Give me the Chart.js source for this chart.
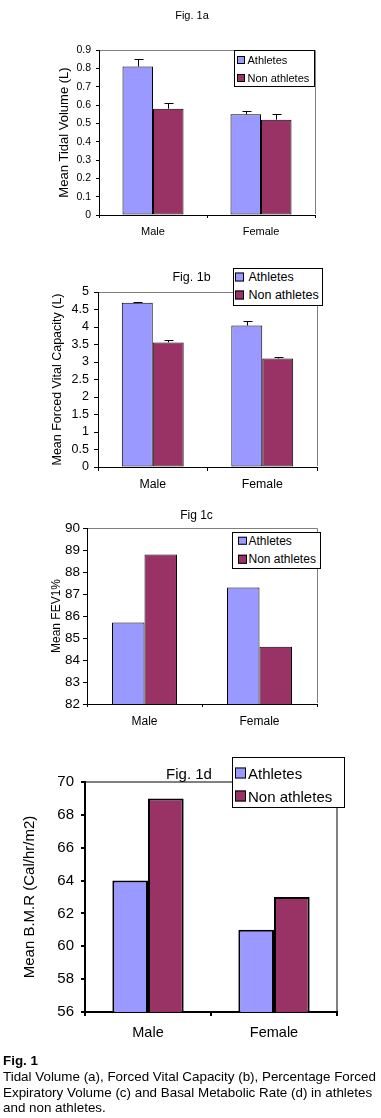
<!DOCTYPE html>
<html><head><meta charset="utf-8">
<script src="https://cdn.jsdelivr.net/npm/chart.js@4.4.0/dist/chart.umd.min.js"></script>
<style>
html,body{margin:0;padding:0;background:#fff;}
body{width:381px;height:1118px;position:relative;overflow:hidden;font-family:"Liberation Sans",Arial,sans-serif;color:#000;}
canvas{position:absolute;left:0;}
.t{position:absolute;transform:translate(-50%,-50%);white-space:nowrap;line-height:1;}
.lg{position:absolute;background:#fff;border:1px solid #000;box-sizing:border-box;}
.it{position:absolute;white-space:nowrap;line-height:1;transform:translateY(-50%);}
.sw{position:absolute;border:1px solid #000;box-sizing:border-box;transform:translateY(-50%);}
#cap{position:absolute;left:3px;top:1053.4px;font-size:13.4px;line-height:15.6px;white-space:nowrap;}
</style></head><body>
<canvas id="c1"></canvas>
<canvas id="c2"></canvas>
<canvas id="c3"></canvas>
<canvas id="c4"></canvas>
<div id="cap"><b>Fig. 1</b><br>Tidal Volume (a), Forced Vital Capacity (b), Percentage Forced<br>Expiratory Volume (c) and Basal Metabolic Rate (d) in athletes<br>and non athletes.</div>
<script>
// ---- data ----
const categories = ['Male', 'Female'];
const seriesNames = ['Athletes', 'Non athletes'];

const tidalAthletes = [0.81, 0.55];
const tidalNonAthletes = [0.58, 0.52];
const tidalAthletesErr = [0.04, 0.017];
const tidalNonAthletesErr = [0.03, 0.03];
const tidalTicks = [0, 0.1, 0.2, 0.3, 0.4, 0.5, 0.6, 0.7, 0.8, 0.9];

const fvcAthletes = [4.69, 4.04];
const fvcNonAthletes = [3.56, 3.10];
const fvcAthletesErr = [0.03, 0.14];
const fvcNonAthletesErr = [0.06, 0.03];
const fvcTicks = [0, 0.5, 1, 1.5, 2, 2.5, 3, 3.5, 4, 4.5, 5];

const fevAthletes = [85.7, 87.3];
const fevNonAthletes = [88.8, 84.6];
const fevTicks = [82, 83, 84, 85, 86, 87, 88, 89, 90];

const bmrAthletes = [64, 61];
const bmrNonAthletes = [69, 63];
const bmrTicks = [56, 58, 60, 62, 64, 66, 68, 70];

const titles = ['Fig. 1a', 'Fig. 1b', 'Fig 1c', 'Fig. 1d'];
const yTitles = ['Mean Tidal Volume (L)', 'Mean Forced Vital Capacity (L)', 'Mean FEV1%', 'Mean B.M.R (Cal/hr/m2)'];

// ---- rendering ----
const W = 381;
Chart.defaults.font.family = '"Liberation Sans", Arial, sans-serif';
Chart.defaults.color = '#000';

const framePlugin = {
  id: 'frame',
  beforeDatasetsDraw(chart, args, opts) {
    const {left, top, right, bottom} = chart.chartArea;
    const ctx = chart.ctx;
    const o = opts.width % 2 ? 0.5 : 0;
    ctx.save();
    ctx.strokeStyle = opts.color;
    ctx.lineWidth = opts.width;
    ctx.beginPath();
    ctx.moveTo(Math.round(left) + 1, Math.round(top) + o);
    ctx.lineTo(Math.round(right) + o, Math.round(top) + o);
    ctx.lineTo(Math.round(right) + o, Math.round(bottom) - 1);
    ctx.stroke();
    ctx.restore();
  }
};

const errorPlugin = {
  id: 'errorBars',
  afterDatasetsDraw(chart, args, opts) {
    const ctx = chart.ctx;
    const ys = chart.scales.y;
    chart.data.datasets.forEach((ds, i) => {
      if (!ds.errors) return;
      const meta = chart.getDatasetMeta(i);
      meta.data.forEach((bar, j) => {
        const v = ds.data[j], e = ds.errors[j];
        const y0 = ys.getPixelForValue(v);
        const y1 = Math.round(ys.getPixelForValue(v + e)) + 0.5;
        const x = Math.round(bar.x) + 0.5;
        ctx.save();
        ctx.strokeStyle = '#000';
        ctx.lineWidth = 1;
        ctx.beginPath();
        ctx.moveTo(x, y0);
        ctx.lineTo(x, y1);
        ctx.moveTo(x - opts.cap, y1);
        ctx.lineTo(x + opts.cap + 1, y1);
        ctx.stroke();
        ctx.restore();
      });
    });
  }
};

function makeChart(o) {
  const cv = document.getElementById(o.id);
  cv.width = W; cv.height = o.h;
  cv.style.width = W + 'px'; cv.style.height = o.h + 'px';
  cv.style.top = o.top + 'px';
  const ds = (k) => ({
    label: seriesNames[k],
    data: k ? o.n : o.a,
    errors: k ? o.ne : o.ae,
    backgroundColor: k ? '#993366' : '#9999FF',
    borderColor: '#000',
    borderWidth: o.bw,
    borderSkipped: false
  });
  new Chart(cv, {
    type: 'bar',
    data: {labels: categories, datasets: [ds(0), ds(1)]},
    options: {
      responsive: false, animation: false, devicePixelRatio: 1,
      layout: {padding: {left: 0, top: o.area.top, right: W - o.area.right, bottom: 0}},
      datasets: {bar: {categoryPercentage: o.cp, barPercentage: 1}},
      plugins: {
        legend: {display: false}, tooltip: {enabled: false},
        frame: {color: '#808080', width: o.lw},
        errorBars: {cap: 4}
      },
      scales: {
        x: {
          grid: {offset: true, drawOnChartArea: false, drawTicks: true, tickLength: o.xtl, color: '#000', lineWidth: o.lw},
          border: {color: '#000', width: o.lw},
          ticks: {color: '#000', font: {size: o.xfs}, padding: o.xpad, maxRotation: 0, autoSkip: false},
          afterFit: s => { s.height = o.h - o.area.bottom; }
        },
        y: {
          min: o.ticks[0], max: o.ticks[o.ticks.length - 1],
          afterBuildTicks: s => { s.ticks = o.ticks.map(v => ({value: v})); },
          grid: {drawOnChartArea: false, drawTicks: true, tickLength: o.ytl, color: '#000', lineWidth: o.lw},
          border: {color: '#000', width: o.lw},
          ticks: {color: '#000', font: {size: o.yfs}, padding: o.ypad, autoSkip: false, callback: v => String(v)},
          title: {display: true, text: o.yTitle, color: '#000', font: {size: o.tfs}, padding: {top: o.tpad, bottom: 0}},
          afterFit: s => { s.width = o.area.left; }
        }
      }
    },
    plugins: [framePlugin, errorPlugin]
  });
}

function addText(txt, cx, cy, size) {
  const d = document.createElement('div');
  d.className = 't';
  d.textContent = txt;
  d.style.left = cx + 'px'; d.style.top = cy + 'px'; d.style.fontSize = size + 'px';
  document.body.appendChild(d);
}

function addLegend(L) {
  const box = document.createElement('div');
  box.className = 'lg';
  box.style.left = L.x + 'px'; box.style.top = L.y + 'px';
  box.style.width = L.w + 'px'; box.style.height = L.h + 'px';
  box.style.borderWidth = L.bw + 'px';
  document.body.appendChild(box);
  const cols = ['#9999FF', '#993366'];
  seriesNames.forEach((name, k) => {
    const sw = document.createElement('div');
    sw.className = 'sw';
    sw.style.left = L.swX + 'px'; sw.style.top = L.rows[k] + 'px';
    sw.style.width = L.sw + 'px'; sw.style.height = L.sw + 'px';
    sw.style.background = cols[k];
    sw.style.borderWidth = L.bw + 'px';
    document.body.appendChild(sw);
    const t = document.createElement('div');
    t.className = 'it';
    t.textContent = name;
    t.style.left = L.tx + 'px'; t.style.top = L.rows[k] + 'px'; t.style.fontSize = L.fs + 'px';
    document.body.appendChild(t);
  });
}

makeChart({id: 'c1', top: 0, h: 245, area: {left: 99, top: 50, right: 315, bottom: 215},
  a: tidalAthletes, n: tidalNonAthletes, ae: tidalAthletesErr, ne: tidalNonAthletesErr, ticks: tidalTicks,
  yTitle: yTitles[0], cp: 0.565, bw: 1, lw: 1,
  xfs: 11, xtl: 3, xpad: 7.2, yfs: 10.5, ytl: 3, ypad: 5, tfs: 13, tpad: 56.2});
makeChart({id: 'c2', top: 240, h: 260, area: {left: 98, top: 52, right: 317, bottom: 227},
  a: fvcAthletes, n: fvcNonAthletes, ae: fvcAthletesErr, ne: fvcNonAthletesErr, ticks: fvcTicks,
  yTitle: yTitles[1], cp: 0.565, bw: 1, lw: 1,
  xfs: 12.3, xtl: 4, xpad: 6.3, yfs: 12.5, ytl: 4, ypad: 5, tfs: 12.5, tpad: 50.5});
makeChart({id: 'c3', top: 500, h: 250, area: {left: 87, top: 28, right: 317, bottom: 204},
  a: fevAthletes, n: fevNonAthletes, ae: null, ne: null, ticks: fevTicks,
  yTitle: yTitles[2], cp: 0.565, bw: 1, lw: 1,
  xfs: 12, xtl: 3, xpad: 7.2, yfs: 13.5, ytl: 4, ypad: 3, tfs: 12, tpad: 49.5});
makeChart({id: 'c4', top: 750, h: 295, area: {left: 85, top: 32, right: 337, bottom: 262},
  a: bmrAthletes, n: bmrNonAthletes, ae: null, ne: null, ticks: bmrTicks,
  yTitle: yTitles[3], cp: 0.566, bw: 2, lw: 2,
  xfs: 14.5, xtl: 4, xpad: 8.6, yfs: 15, ytl: 4, ypad: 7, tfs: 15, tpad: 21});

addText(titles[0], 192, 15, 11);
addText(titles[1], 191.5, 276.7, 12.5);
addText(titles[2], 196.5, 515, 12);
addText(titles[3], 189, 773.3, 15);

addLegend({x: 234, y: 50, w: 81, h: 37, bw: 1, sw: 8, swX: 237, tx: 247.5, fs: 11, rows: [60, 77.7]});
addLegend({x: 233, y: 268, w: 90, h: 38, bw: 1, sw: 9, swX: 235, tx: 248.5, fs: 12.5, rows: [276.7, 295.3]});
addLegend({x: 232, y: 532, w: 89, h: 36.5, bw: 1, sw: 8.5, swX: 238, tx: 248.5, fs: 12, rows: [540.8, 559]});
addLegend({x: 232, y: 757, w: 113, h: 51, bw: 1.5, sw: 11, swX: 235, tx: 248, fs: 15, rows: [773.3, 795.7]});
</script>
</body></html>
